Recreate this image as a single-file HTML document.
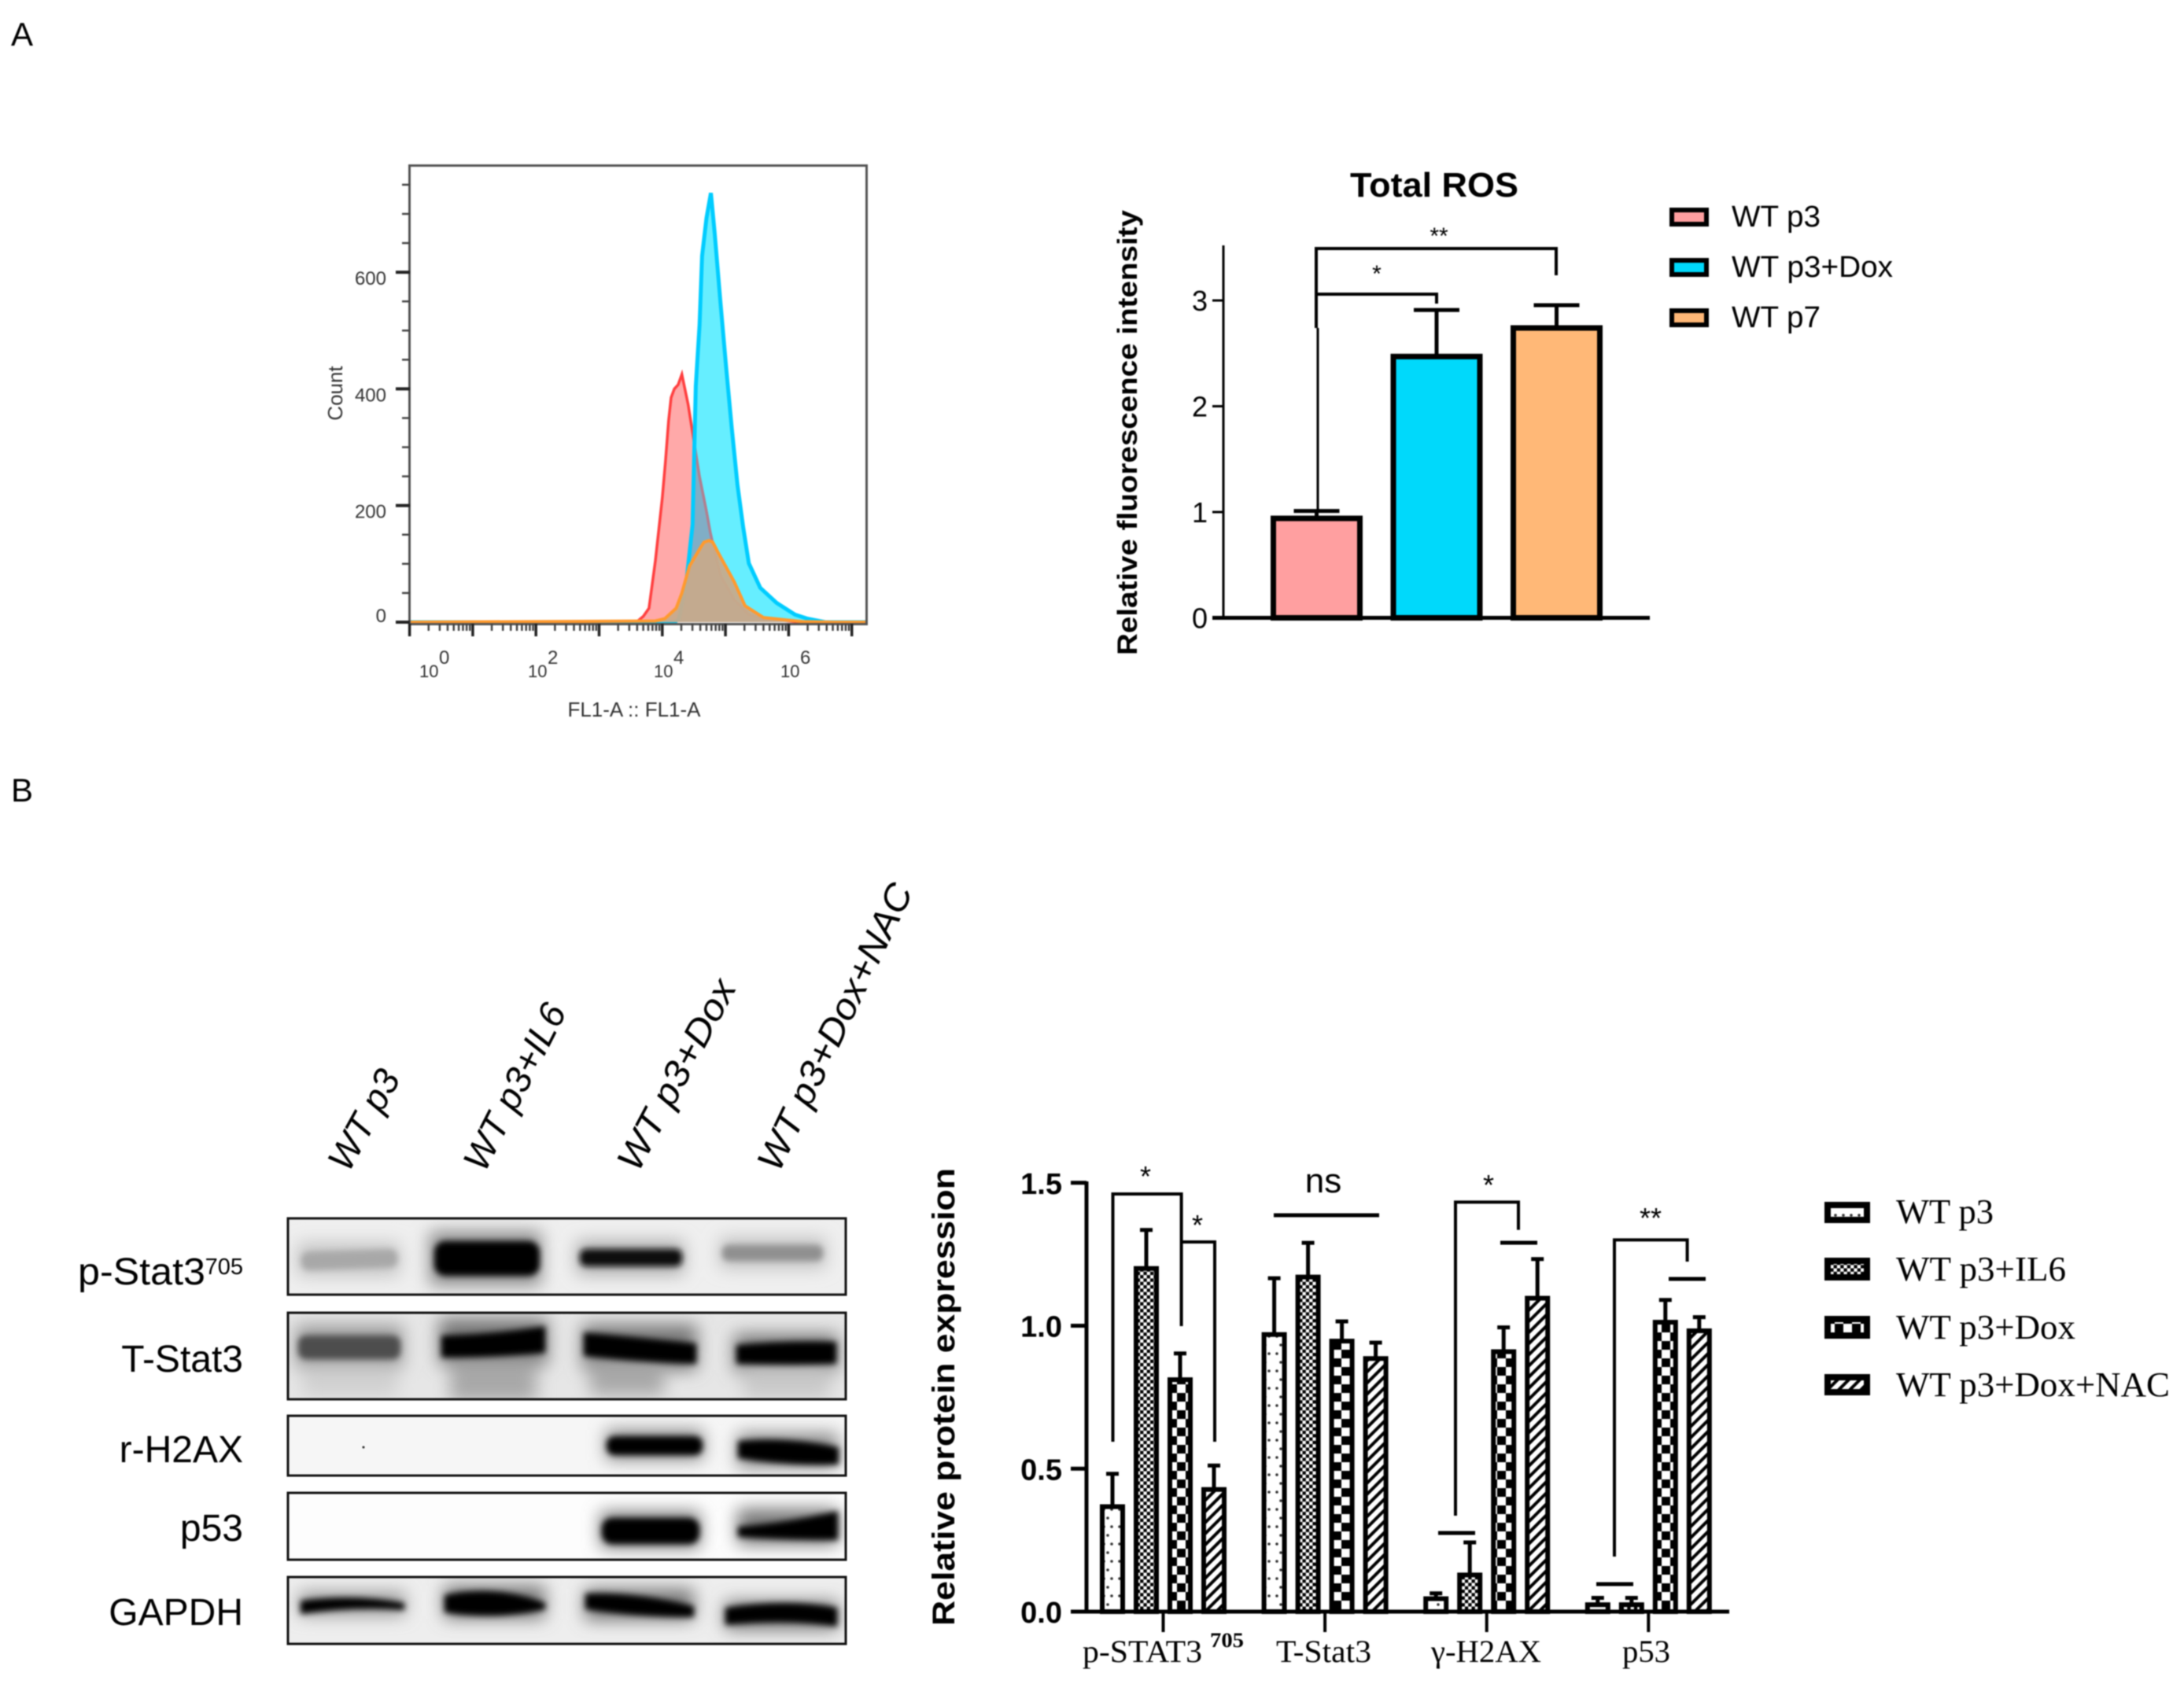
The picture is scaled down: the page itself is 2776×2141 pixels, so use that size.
<!DOCTYPE html>
<html lang="en">
<head>
<meta charset="utf-8">
<title>Total ROS and protein expression figure</title>
<style>
html,body{margin:0;padding:0;background:#fff}
svg{display:block;filter:blur(0.7px)}
text{font-family:"Liberation Sans",sans-serif;fill:#000}
.serif{font-family:"Liberation Serif",serif}
</style>
</head>
<body>
<svg id="fig" xmlns="http://www.w3.org/2000/svg" width="2776" height="2141" viewBox="0 0 2776 2141">
<defs>
  <filter id="blurCore" x="-30%" y="-80%" width="160%" height="260%"><feGaussianBlur stdDeviation="4"/></filter>
  <filter id="blurHalo" x="-30%" y="-100%" width="160%" height="300%"><feGaussianBlur stdDeviation="11"/></filter>
  <pattern id="patDots" width="20" height="22" patternUnits="userSpaceOnUse" x="1398"><rect width="20" height="22" fill="#fff"/><circle cx="5" cy="5" r="1.8" fill="#333"/><circle cx="15" cy="5" r="1.8" fill="#333"/><circle cx="10" cy="16" r="1.8" fill="#333"/></pattern>
  <pattern id="patFine" width="8.6" height="8.6" patternUnits="userSpaceOnUse"><rect width="8.6" height="8.6" fill="#fff"/><rect width="4.3" height="4.3" fill="#000"/><rect x="4.3" y="4.3" width="4.3" height="4.3" fill="#000"/></pattern>
  <pattern id="patCheck" width="22" height="22" patternUnits="userSpaceOnUse"><rect width="22" height="22" fill="#000"/><rect x="0" y="0" width="11" height="11" fill="#fff"/><rect x="11" y="11" width="11" height="11" fill="#fff"/></pattern>
  <pattern id="patStripe" width="10" height="10" patternUnits="userSpaceOnUse" patternTransform="rotate(45)"><rect width="10" height="10" fill="#fff"/><rect width="4" height="10" fill="#000"/></pattern>
  <clipPath id="clip1"><rect x="366" y="1549" width="709" height="97"/></clipPath>
  <clipPath id="clip2"><rect x="366" y="1669" width="709" height="110"/></clipPath>
  <clipPath id="clip3"><rect x="366" y="1800" width="709" height="76"/></clipPath>
  <clipPath id="clip4"><rect x="366" y="1898" width="709" height="85"/></clipPath>
  <clipPath id="clip5"><rect x="366" y="2005" width="709" height="85"/></clipPath>
  <clipPath id="flowBlueClip"><path id="flowBlueClipPath" d=""/></clipPath>
</defs>

<text x="14" y="58" font-size="42">A</text>
<text x="14" y="1019" font-size="42">B</text>

<!-- Flow cytometry -->
<g id="flow">
  <g id="flowMarks"></g>
  <rect x="520.5" y="210.5" width="581" height="583" fill="none" stroke="#555" stroke-width="3"/>
  <g id="flowTicks"></g>
  <text transform="translate(435,500) rotate(-90)" text-anchor="middle" font-size="26" style="fill:#333">Count</text>
  <text x="806" y="911" text-anchor="middle" font-size="26" style="fill:#333">FL1-A :: FL1-A</text>
</g>

<!-- ROS bars -->
<g id="ros">
  <text x="1823" y="250" text-anchor="middle" font-size="44" font-weight="bold" textLength="214" lengthAdjust="spacingAndGlyphs">Total ROS</text>
  <text transform="translate(1445,550) rotate(-90)" text-anchor="middle" font-size="35" font-weight="bold" textLength="566" lengthAdjust="spacingAndGlyphs">Relative fluorescence intensity</text>
  <g id="rosMarks"></g>
  <path d="M1673 417V316H1978V350" fill="none" stroke="#000" stroke-width="4"/>
  <path d="M1673 374H1826V386" fill="none" stroke="#000" stroke-width="4"/>
  <path d="M1675 417V650" fill="none" stroke="#000" stroke-width="3"/>
  <text x="1829" y="310" text-anchor="middle" font-size="30">**</text>
  <text x="1750" y="358" text-anchor="middle" font-size="30">*</text>
  <g>
    <g><rect x="2125" y="267" width="44" height="18" fill="#ff9fa0" stroke="#000" stroke-width="6"/><text x="2201" y="288" font-size="38" textLength="113" lengthAdjust="spacingAndGlyphs">WT p3</text></g>
    <g><rect x="2125" y="331" width="44" height="18" fill="#00d9fb" stroke="#000" stroke-width="6"/><text x="2201" y="352" font-size="38" textLength="205" lengthAdjust="spacingAndGlyphs">WT p3+Dox</text></g>
    <g><rect x="2125" y="395" width="44" height="18" fill="#ffb877" stroke="#000" stroke-width="6"/><text x="2201" y="416" font-size="38" textLength="113" lengthAdjust="spacingAndGlyphs">WT p7</text></g>
  </g>
</g>

<!-- Rotated lane labels -->
<g font-size="47" font-style="italic">
  <text transform="translate(443,1492) rotate(-61)">WT p3</text>
  <text transform="translate(616,1492) rotate(-63)">WT p3+IL6</text>
  <text transform="translate(811,1492) rotate(-62)" textLength="268" lengthAdjust="spacingAndGlyphs">WT p3+Dox</text>
  <text transform="translate(990,1492) rotate(-64.5)" textLength="398" lengthAdjust="spacingAndGlyphs">WT p3+Dox+NAC</text>
</g>

<!-- Western blot -->
<g>
  <g clip-path="url(#clip1)">
    <rect x="366" y="1549" width="709" height="97" fill="#efefef"/>
    <g filter="url(#blurHalo)"><rect x="378" y="1580" width="130" height="42" fill="#c4c4c4"/><rect x="546" y="1566" width="142" height="68" fill="#888"/><rect x="733" y="1578" width="136" height="42" fill="#aaa"/><rect x="915" y="1574" width="134" height="38" fill="#c0c0c0"/></g>
    <g filter="url(#blurCore)"><rect x="383" y="1590" width="122" height="23" rx="9" fill="#a8a8a8" transform="rotate(-2 444 1600)"/><rect x="552" y="1578" width="134" height="44" rx="14" fill="#000"/><rect x="737" y="1588" width="130" height="22" rx="8" fill="#0c0c0c"/><rect x="918" y="1583" width="128" height="20" rx="8" fill="#909090"/></g>
  </g>
  <g clip-path="url(#clip2)">
    <rect x="366" y="1669" width="709" height="110" fill="#e6e6e6"/>
    <g filter="url(#blurHalo)"><rect x="376" y="1685" width="136" height="56" fill="#999"/><rect x="558" y="1676" width="138" height="60" fill="#777"/><rect x="740" y="1684" width="146" height="58" fill="#777"/><rect x="933" y="1696" width="132" height="50" fill="#777"/><rect x="385" y="1735" width="120" height="40" fill="#d0d0d0"/><rect x="572" y="1728" width="110" height="54" fill="#a8a8a8"/><rect x="750" y="1728" width="94" height="46" fill="#a8a8a8"/><rect x="945" y="1735" width="110" height="42" fill="#c8c8c8"/></g>
    <g filter="url(#blurCore)"><rect x="379" y="1698" width="130" height="30" rx="10" fill="#4e4e4e"/><path d="M561 1698Q630 1696 693 1686V1720Q630 1726 561 1726Z" fill="#000"/><path d="M742 1694Q810 1700 885 1708V1734Q810 1732 742 1724Z" fill="#000"/><path d="M936 1710Q1000 1704 1063 1706V1734Q1000 1736 936 1734Z" fill="#050505"/></g>
  </g>
  <g clip-path="url(#clip3)">
    <rect x="366" y="1800" width="709" height="76" fill="#f6f6f6"/>
    <g filter="url(#blurHalo)"><rect x="770" y="1818" width="124" height="38" fill="#888"/><rect x="937" y="1822" width="128" height="44" fill="#888"/></g>
    <g filter="url(#blurCore)"><rect x="771" y="1826" width="122" height="24" rx="10" fill="#000"/><path d="M938 1832Q1000 1826 1066 1840V1862Q1000 1864 938 1854Z" fill="#000"/></g>
    <circle cx="462" cy="1840" r="1.5" fill="#222"/>
  </g>
  <g clip-path="url(#clip4)">
    <rect x="366" y="1898" width="709" height="85" fill="#fdfdfd"/>
    <g filter="url(#blurHalo)"><rect x="763" y="1922" width="127" height="46" fill="#777"/><rect x="937" y="1918" width="128" height="46" fill="#777"/></g>
    <g filter="url(#blurCore)"><rect x="765" y="1930" width="124" height="33" rx="13" fill="#000"/><path d="M938 1941Q1000 1936 1065 1921V1958Q1000 1958 938 1954Z" fill="#000"/></g>
  </g>
  <g clip-path="url(#clip5)">
    <rect x="366" y="2005" width="709" height="85" fill="#eeeeee"/>
    <g filter="url(#blurHalo)"><rect x="380" y="2024" width="135" height="30" fill="#999"/><rect x="564" y="2016" width="129" height="42" fill="#777"/><rect x="743" y="2020" width="139" height="40" fill="#777"/><rect x="921" y="2036" width="144" height="36" fill="#777"/></g>
    <g filter="url(#blurCore)"><path d="M382 2035Q450 2026 514 2038V2047Q450 2042 382 2052Z" fill="#000"/><path d="M565 2028Q630 2014 693 2038V2046Q630 2060 565 2050Z" fill="#000"/><path d="M744 2026Q810 2024 882 2042V2056Q810 2056 744 2046Z" fill="#000"/><path d="M922 2044Q1000 2032 1064 2044V2068Q1000 2058 922 2066Z" fill="#000"/></g>
  </g>
  <g fill="none" stroke="#111" stroke-width="3">
    <rect x="366" y="1549" width="709" height="97"/>
    <rect x="366" y="1669" width="709" height="110"/>
    <rect x="366" y="1800" width="709" height="76"/>
    <rect x="366" y="1898" width="709" height="85"/>
    <rect x="366" y="2005" width="709" height="85"/>
  </g>
  <g font-size="48" text-anchor="end">
    <text x="261" y="1633" textLength="162" lengthAdjust="spacingAndGlyphs">p-Stat3</text>
    <text x="309" y="1620" font-size="29">705</text>
    <text x="309" y="1744">T-Stat3</text>
    <text x="309" y="1859">r-H2AX</text>
    <text x="309" y="1959">p53</text>
    <text x="309" y="2066">GAPDH</text>
  </g>
</g>

<!-- Protein bars -->
<g id="prot">
  <text transform="translate(1213,1776) rotate(-90)" text-anchor="middle" font-size="40" font-weight="bold" textLength="582" lengthAdjust="spacingAndGlyphs">Relative protein expression</text>
  <g id="protMarks"></g>
  <g fill="none" stroke="#000" stroke-width="4">
    <path d="M1414.5 1833V1518H1501.6V1686"/>
    <path d="M1501.6 1579H1544V1833"/>
    <path d="M1619 1545H1753" stroke-width="5"/>
    <path d="M1850 1927V1528.4H1930V1563.6"/>
    <path d="M1828 1949H1875" stroke-width="5"/>
    <path d="M1907 1580H1954" stroke-width="5"/>
    <path d="M2052 1979V1576.4H2144.6V1604"/>
    <path d="M2029 2014H2076" stroke-width="5"/>
    <path d="M2121 1626H2168" stroke-width="5"/>
  </g>
  <g font-size="36" text-anchor="middle">
    <text x="1456" y="1508">*</text>
    <text x="1522" y="1570">*</text>
    <text x="1892" y="1519">*</text>
    <text x="2098" y="1561">**</text>
    <text x="1682" y="1516" font-size="44">ns</text>
  </g>
  <g class="serif" font-size="40">
    <text class="serif" x="1376" y="2113" textLength="152" lengthAdjust="spacingAndGlyphs">p-STAT3</text>
    <text class="serif" x="1538" y="2094" font-size="26" font-weight="bold" textLength="43" lengthAdjust="spacingAndGlyphs">705</text>
    <text class="serif" x="1622" y="2113" textLength="121" lengthAdjust="spacingAndGlyphs">T-Stat3</text>
    <text class="serif" x="1819" y="2113" textLength="140" lengthAdjust="spacingAndGlyphs">γ-H2AX</text>
    <text class="serif" x="2062" y="2113" textLength="61" lengthAdjust="spacingAndGlyphs">p53</text>
  </g>
  <g>
    <g><rect x="2323" y="1532" width="50" height="19" fill="url(#patDots)" stroke="#000" stroke-width="8"/><text class="serif" x="2410" y="1555" font-size="44" textLength="124" lengthAdjust="spacingAndGlyphs">WT p3</text></g>
    <g><rect x="2323" y="1603" width="50" height="21" fill="url(#patFine)" stroke="#000" stroke-width="8"/><text class="serif" x="2410" y="1628" font-size="44" textLength="216" lengthAdjust="spacingAndGlyphs">WT p3+IL6</text></g>
    <g><rect x="2323" y="1677" width="50" height="21" fill="url(#patCheck)" stroke="#000" stroke-width="8"/><text class="serif" x="2410" y="1702" font-size="44" textLength="228" lengthAdjust="spacingAndGlyphs">WT p3+Dox</text></g>
    <g><rect x="2323" y="1751" width="50" height="19" fill="url(#patStripe)" stroke="#000" stroke-width="8"/><text class="serif" x="2410" y="1775" font-size="44" textLength="348" lengthAdjust="spacingAndGlyphs">WT p3+Dox+NAC</text></g>
  </g>
</g>
</svg>

<script>
/* Flow cytometry histogram data (log10 intensity, event count) */
const flowYTicks = [0, 200, 400, 600];
const flowYMinor = [50, 100, 150, 250, 300, 350, 450, 500, 550, 650, 700, 750];
const flowDecades = [0, 1, 2, 3, 4, 5, 6, 7];
const redLog = [0, 3.59, 3.70, 3.79, 3.89, 4.00, 4.05, 4.10, 4.14, 4.19, 4.25, 4.31, 4.41, 4.48, 4.59, 4.70, 4.76, 4.85, 4.93, 5.14, 5.37, 5.61, 6.10, 6.70, 7.25];
const redCount = [0, 0, 10, 24, 105, 213, 275, 345, 385, 400, 407, 425, 373, 325, 249, 190, 154, 110, 78, 38, 13, 5, 1, 0, 0];
const blueLog = [0, 3.95, 4.19, 4.26, 4.31, 4.39, 4.48, 4.53, 4.59, 4.63, 4.70, 4.77, 4.83, 4.92, 5.01, 5.10, 5.19, 5.28, 5.37, 5.55, 5.81, 6.10, 6.30, 6.58, 7.25];
const blueCount = [0, 0, 0, 5, 30, 78, 167, 405, 510, 628, 693, 736, 667, 549, 438, 333, 235, 163, 101, 59, 33, 13, 6, 0, 0];
const orangeLog = [0, 3.89, 4.04, 4.22, 4.31, 4.43, 4.60, 4.66, 4.74, 4.80, 4.89, 5.14, 5.31, 5.60, 5.85, 6.22, 6.70, 7.25];
const orangeCount = [0, 2, 6, 24, 50, 96, 127, 137, 140, 137, 118, 69, 28, 8, 5, 1, 0, 0];

/* Total ROS bar data */
const rosGroups = ['WT p3', 'WT p3+Dox', 'WT p7'];
const rosMeans = [0.94, 2.47, 2.74];
const rosUpper = [1.01, 2.91, 2.955];
const rosColors = ['#ff9fa0', '#00d9fb', '#ffb877'];
const rosTicks = [0, 1, 2, 3];

/* Protein expression bar data */
const proteinCategories = ['p-STAT3', 'T-Stat3', 'gamma-H2AX', 'p53'];
const proteinSeries = ['wt-p3', 'wt-p3-il6', 'wt-p3-dox', 'wt-p3-dox-nac'];
const wtP3Means = [0.37, 0.972, 0.048, 0.027];
const wtP3Upper = [0.482, 1.166, 0.064, 0.048];
const il6Means = [1.203, 1.173, 0.131, 0.027];
const il6Upper = [1.335, 1.29, 0.242, 0.048];
const doxMeans = [0.814, 0.949, 0.912, 1.015];
const doxUpper = [0.903, 1.015, 0.994, 1.09];
const nacMeans = [0.43, 0.888, 1.099, 0.985];
const nacUpper = [0.511, 0.941, 1.233, 1.03];
const proteinTicks = ['0.0', '0.5', '1.0', '1.5'];

const NS = 'http://www.w3.org/2000/svg';
function make(parent, tag) {
  const el = document.createElementNS(NS, tag);
  parent.appendChild(el);
  return el;
}
function attrs(el, o) { for (const k in o) el.setAttribute(k, o[k]); return el; }

/* axis functions */
const xFlow = d => 520.6 + d * 80.3;
const yFlow = c => 791 - c * 0.7415;
const yRos = v => 785.5 - v * 134.5;
const yProt = v => 2049 - v * 363.5;

/* ---------- flow histogram ---------- */
const flowMarks = document.getElementById('flowMarks');
const flowTicks = document.getElementById('flowTicks');
function flowPath(logs, counts) {
  return logs.map((d, i) => (i ? 'L' : 'M') + xFlow(d).toFixed(1) + ' ' + yFlow(counts[i]).toFixed(1)).join('');
}
document.getElementById('flowBlueClipPath').setAttribute('d', flowPath(blueLog, blueCount) + 'Z');
const redArea = make(flowMarks, 'path');


attrs(redArea, { d: flowPath(redLog, redCount) + 'Z', fill: '#ffa9a9' });
const redLine = make(flowMarks, 'path');


attrs(redLine, { d: flowPath(redLog, redCount), fill: 'none', stroke: '#ff3f3f', 'stroke-width': 3.5 });
const blueArea = make(flowMarks, 'path');


attrs(blueArea, { d: flowPath(blueLog, blueCount) + 'Z', fill: '#66eeff' });
const overlapArea = make(flowMarks, 'path');


attrs(overlapArea, { d: flowPath(redLog, redCount), fill: '#80aec6', stroke: '#b08090', 'stroke-width': 3.5, 'clip-path': 'url(#flowBlueClip)' });
const blueLine = make(flowMarks, 'path');


attrs(blueLine, { d: flowPath(blueLog, blueCount), fill: 'none', stroke: '#00ccff', 'stroke-width': 5 });
const orangeArea = make(flowMarks, 'path');


attrs(orangeArea, { d: flowPath(orangeLog, orangeCount) + 'Z', fill: '#c6aa8c', 'fill-opacity': 0.95 });
const orangeLine = make(flowMarks, 'path');


attrs(orangeLine, { d: flowPath(orangeLog, orangeCount), fill: 'none', stroke: '#ff9a2e', 'stroke-width': 4 });

flowYTicks.forEach(c => {
  const t = make(flowTicks, 'line');
  
  
  attrs(t, { x1: 503, x2: 521, y1: yFlow(c), y2: yFlow(c), stroke: '#222', 'stroke-width': 4 });
  const l = make(flowTicks, 'text');
  
  
  attrs(l, { x: 491, y: yFlow(c) + (c === 0 ? 0 : 16), 'text-anchor': 'end', 'font-size': 24, style: 'fill:#333' });
  l.textContent = c;
});
flowYMinor.forEach(c => {
  const t = make(flowTicks, 'line');
  
  
  attrs(t, { x1: 511, x2: 521, y1: yFlow(c), y2: yFlow(c), stroke: '#444', 'stroke-width': 2.5 });
});
flowDecades.forEach(d => {
  const t = make(flowTicks, 'line');
  
  
  attrs(t, { x1: xFlow(d), x2: xFlow(d), y1: 793, y2: 809, stroke: '#222', 'stroke-width': 3.5 });
  [2, 3, 4, 5, 6, 7, 8, 9].forEach(m => {
    if (d === 7 && m > 1.7) return;
    const n = make(flowTicks, 'line');
    
    
    const xx = xFlow(d + Math.log10(m));
    attrs(n, { x1: xx, x2: xx, y1: 793, y2: 802, stroke: '#444', 'stroke-width': 2.5 });
  });
});
[[533, 0], [671, 2], [831, 4], [992, 6]].forEach(p => {
  const b = make(flowTicks, 'text');
  
  
  attrs(b, { x: p[0], y: 861, 'font-size': 22, style: 'fill:#333' });
  b.textContent = '10';
  const s = make(flowTicks, 'text');
  
  
  attrs(s, { x: p[0] + 25, y: 844, 'font-size': 24, style: 'fill:#333' });
  s.textContent = p[1];
});

/* ---------- ROS bars ---------- */
const rosMarks = document.getElementById('rosMarks');
const rosX = i => 1618.5 + i * 152.5;
const rosW = 110;
rosGroups.forEach((g, i) => {
  const cx = rosX(i) + rosW / 2;
  const e = make(rosMarks, 'path');
  
  
  attrs(e, { d: `M${cx} ${yRos(rosMeans[i])}V${yRos(rosUpper[i])}M${cx - 29} ${yRos(rosUpper[i])}H${cx + 29}`, fill: 'none', stroke: '#000', 'stroke-width': 5 });
  const b = make(rosMarks, 'rect');
  
  
  attrs(b, { x: rosX(i), y: yRos(rosMeans[i]), width: rosW, height: yRos(0) - yRos(rosMeans[i]), fill: rosColors[i], stroke: '#000', 'stroke-width': 7 });
});
const rosYAxis = make(rosMarks, 'line');


attrs(rosYAxis, { x1: 1555, x2: 1555, y1: 312, y2: 786, stroke: '#000', 'stroke-width': 3 });
const rosXAxis = make(rosMarks, 'line');


attrs(rosXAxis, { x1: 1541, x2: 2097, y1: 785.5, y2: 785.5, stroke: '#000', 'stroke-width': 5 });
rosTicks.forEach(v => {
  const t = make(rosMarks, 'line');
  
  
  attrs(t, { x1: 1541, x2: 1555, y1: yRos(v), y2: yRos(v), stroke: '#000', 'stroke-width': 3 });
  const l = make(rosMarks, 'text');
  
  
  attrs(l, { x: 1535, y: yRos(v) + 13, 'text-anchor': 'end', 'font-size': 36 });
  l.textContent = v;
});

/* ---------- Protein bars ---------- */
const protMarks = document.getElementById('protMarks');
const protFills = ['url(#patDots)', 'url(#patFine)', 'url(#patCheck)', 'url(#patStripe)'];
const protMeans = [wtP3Means, il6Means, doxMeans, nacMeans];
const protUpper = [wtP3Upper, il6Upper, doxUpper, nacUpper];
const groupStart = c => 1398 + c * 205.6;
const barOffset = s => s * 43;
const protW = 32;
proteinCategories.forEach((cat, c) => {
  proteinSeries.forEach((ser, s) => {
    const x = groupStart(c) + barOffset(s);
    const cx = x + protW / 2;
    const m = protMeans[s][c];
    const u = protUpper[s][c];
    const e = make(protMarks, 'path');
    
    
    attrs(e, { d: `M${cx} ${yProt(m)}V${yProt(u)}M${cx - 8} ${yProt(u)}H${cx + 8}`, fill: 'none', stroke: '#000', 'stroke-width': 5 });
    const b = make(protMarks, 'rect');
    
    
    attrs(b, { x: x + 3, y: yProt(m) + 1, width: protW - 6, height: yProt(0) - yProt(m) - 1, fill: protFills[s], stroke: '#000', 'stroke-width': 6 });
  });
});
const protYAxis = make(protMarks, 'line');


attrs(protYAxis, { x1: 1381, x2: 1381, y1: 1502, y2: 2050, stroke: '#000', 'stroke-width': 5 });
const protXAxis = make(protMarks, 'line');


attrs(protXAxis, { x1: 1361, x2: 2198, y1: 2049, y2: 2049, stroke: '#000', 'stroke-width': 5 });
proteinTicks.forEach(v => {
  const t = make(protMarks, 'line');
  
  
  attrs(t, { x1: 1361, x2: 1381, y1: yProt(+v), y2: yProt(+v), stroke: '#000', 'stroke-width': 5 });
  const l = make(protMarks, 'text');
  
  
  attrs(l, { x: 1350, y: yProt(+v) + 14, 'text-anchor': 'end', 'font-size': 38, 'font-weight': 'bold' });
  l.textContent = v;
});
proteinCategories.forEach((cat, c) => {
  const cx = groupStart(c) + barOffset(1.5) + protW / 2;
  const t = make(protMarks, 'line');
  
  
  attrs(t, { x1: cx, x2: cx, y1: 2049, y2: 2075, stroke: '#000', 'stroke-width': 4 });
});
</script>
</body>
</html>
